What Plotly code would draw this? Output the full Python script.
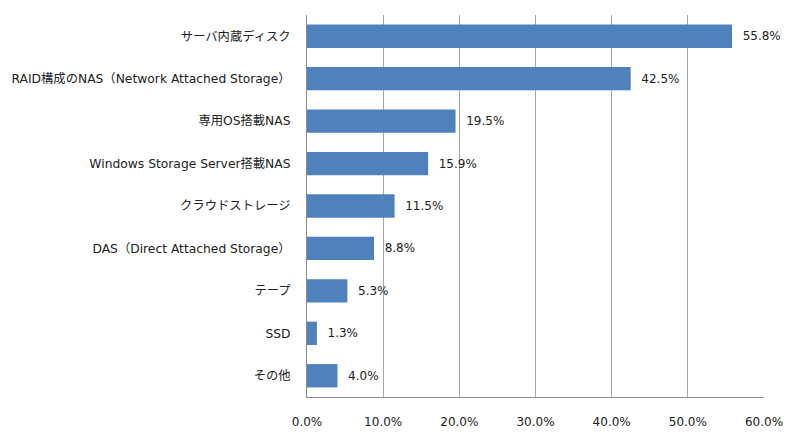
import plotly.graph_objects as go

categories = ['サーバ内蔵ディスク', 'RAID構成のNAS（Network Attached Storage）', '専用OS搭載NAS',
              'Windows Storage Server搭載NAS', 'クラウドストレージ', 'DAS（Direct Attached Storage）',
              'テープ', 'SSD', 'その他']
values = [55.8, 42.5, 19.5, 15.9, 11.5, 8.8, 5.3, 1.3, 4.0]
tick_vals = [0, 10, 20, 30, 40, 50, 60]
tick_text = ['%.1f%%' % v for v in tick_vals]

font_family = 'DejaVu Sans, Noto Sans CJK JP, sans-serif'

fig = go.Figure()
fig.add_trace(go.Bar(
    x=values, y=categories, orientation='h',
    marker=dict(color='#4F81BD', line=dict(width=0)),
    text=['\u00a0\u00a0%.1f%%' % v for v in values], textposition='outside',
    textfont=dict(size=12, color='#222222', family=font_family),
    cliponaxis=False))

# page body has an 8px margin, so the figure is a little smaller than the window
fig.update_layout(
    width=792, height=433,
    margin=dict(l=299, r=36, t=7, b=44),
    plot_bgcolor='white', paper_bgcolor='white',
    bargap=0.45, showlegend=False,
    font=dict(family=font_family, size=12, color='#222222'))
fig.update_xaxes(range=[0, 60], tickvals=tick_vals, ticktext=tick_text,
                 showgrid=True, gridcolor='#A6A6A6', gridwidth=1,
                 showline=True, linecolor='#8C8C8C', linewidth=1,
                 ticks='', ticklabelstandoff=14, zeroline=False, automargin=False)
fig.update_yaxes(autorange='reversed', showline=True, linecolor='#8C8C8C', linewidth=1,
                 ticks='', ticklabelstandoff=13, showgrid=False, automargin=False,
                 tickfont=dict(size=12.3))

fig.write_html('out.html')
